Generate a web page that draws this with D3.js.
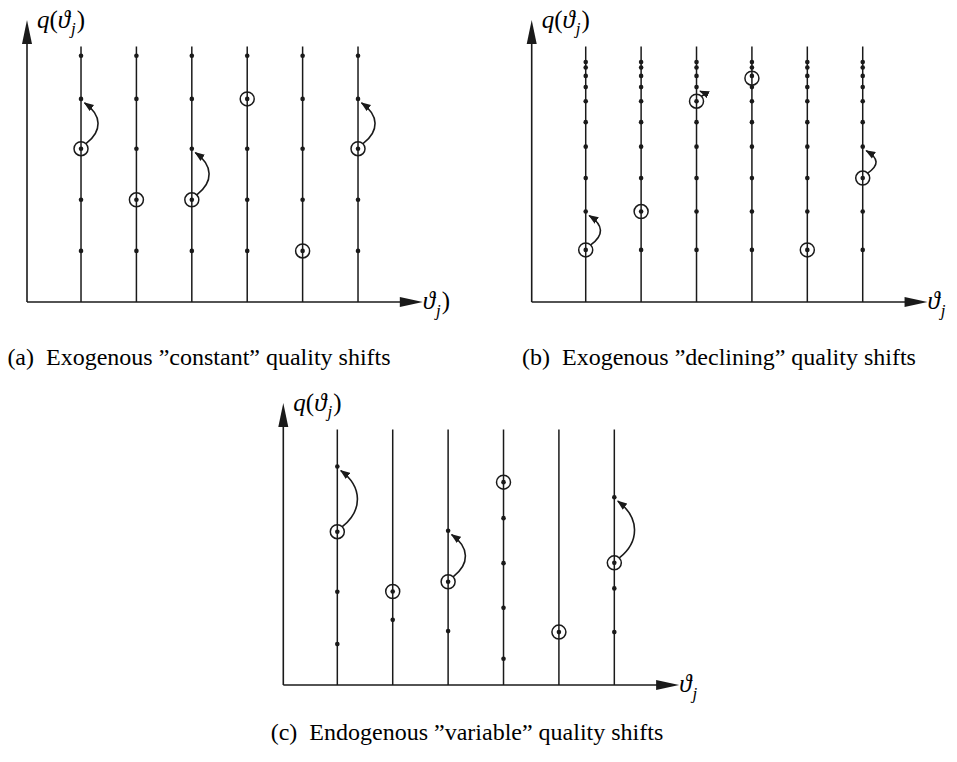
<!DOCTYPE html>
<html>
<head>
<meta charset="utf-8">
<script src="https://cdn.jsdelivr.net/npm/d3@7"></script>
<style>
  body { margin: 0; background: #fff; }
  text { font-family: "Liberation Serif", "DejaVu Serif", serif; fill: #000; }
</style>
</head>
<body>
<svg id="fig" width="957" height="762"></svg>
<script>
// six products on the horizontal axis, quality levels in units of the vertical line height (0..100)
var products = [1, 2, 3, 4, 5, 6];

// (a) constant shifts: same ladder on every line
var levelsA  = [20, 40, 60, 79.5, 96.4];
var circlesA = [60, 40, 40, 79.5, 20, 60];
var shiftsA  = [[1, 60, 79.5], [3, 40, 60], [6, 60, 79.5]];

// (b) declining shifts: ladder gets denser towards the top
var levelsB  = [20.4, 35.4, 48.5, 60.8, 70.4, 78.6, 84.1, 88.5, 91.8, 93.9];
var circlesB = [20.4, 35.4, 78.6, 87.6, 20.4, 48.5];
var shiftsB  = [[1, 20.4, 35.4], [3, 78.6, 84.1], [6, 48.5, 60.8]];

// (c) variable shifts: every line has its own ladder
var levelsC  = [[85.5, 60, 36.5, 16], [36.6, 25.5], [60.4, 40.4, 21.1],
                [79.4, 65.3, 47.7, 30.2, 10.3], [20.7], [73.5, 47.8, 37.8, 20.7]];
var circlesC = [60, 36.6, 40.4, 79.4, 20.7, 47.8];
var shiftsC  = [[1, 60, 85.5], [3, 40.4, 60.4], [6, 47.8, 73.5]];

var captions = [
  '(a)\u2002Exogenous \u201Dconstant\u201D quality shifts',
  '(b)\u2002Exogenous \u201Ddeclining\u201D quality shifts',
  '(c)\u2002Endogenous \u201Dvariable\u201D quality shifts'
];

var ink = '#1a1a1a';
var svg = d3.select('#fig');

var defs = svg.append('defs');
defs.append('marker')
  .attr('id', 'head')
  .attr('markerUnits', 'userSpaceOnUse')
  .attr('viewBox', '0 -4 10 8')
  .attr('refX', 9).attr('refY', 0)
  .attr('markerWidth', 10).attr('markerHeight', 8)
  .attr('orient', 'auto')
  .append('path')
  .attr('d', 'M0,-3.8L10,0L0,3.8Z')
  .attr('fill', ink);

function panel() {
  var
    ox = 0, oy = 0,
    xLabel = '',
    levels = [],
    circles = [],
    shifts = [],
    xScale = d3.scaleLinear().domain([0.025, 7.17]),
    yScale = d3.scaleLinear().domain([0, 100]),
    stepX = 55.4,
    lineH = 255.5
    ;

  function draw(g) {
    xScale.range([0, (7.17 - 0.025) * stepX]);
    yScale.range([0, -lineH]);
    g = g.append('g').attr('transform', 'translate(' + ox + ',' + oy + ')');

    var yTop = yScale(110.4), xEnd = xScale(7.17);

    // axes with filled arrow tips
    g.append('line').attr('x1', 0).attr('y1', 0).attr('x2', 0).attr('y2', yTop + 20)
      .attr('stroke', ink).attr('stroke-width', 1.6);
    g.append('line').attr('x1', 0).attr('y1', 0).attr('x2', xEnd - 20).attr('y2', 0)
      .attr('stroke', ink).attr('stroke-width', 1.6);
    g.append('path').attr('d', 'M0,' + yTop + 'L-5,' + (yTop + 24) + 'L5,' + (yTop + 24) + 'Z').attr('fill', ink);
    g.append('path').attr('d', 'M' + xEnd + ',0L' + (xEnd - 23) + ',-5L' + (xEnd - 23) + ',5Z').attr('fill', ink);

    // q(theta_j) label
    var ql = g.append('text').attr('x', 10).attr('y', yTop + 8).style('font-size', '25px');
    ql.append('tspan').style('font-style', 'italic').text('q');
    ql.append('tspan').text('(');
    ql.append('tspan').style('font-style', 'italic').text('\u03D1');
    ql.append('tspan').style('font-style', 'italic').style('font-size', '17px').attr('dy', 6).attr('dx', 1).text('j');
    ql.append('tspan').attr('dy', -6).attr('dx', 1).text(')');

    var xl = g.append('text').attr('x', xEnd).attr('y', 7).style('font-size', '25px');
    xl.append('tspan').style('font-style', 'italic').text('\u03D1');
    xl.append('tspan').style('font-style', 'italic').style('font-size', '17px').attr('dy', 7).attr('dx', 1).text('j');
    if (xLabel) xl.append('tspan').attr('dy', -7).attr('dx', 1).text(xLabel);

    var cols = g.selectAll('.col')
      .data(products)
      .enter().append('g')
      .attr('class', 'col')
      .attr('transform', d => 'translate(' + xScale(d) + ',0)');

    cols.append('line')
      .attr('y1', 0).attr('y2', yScale(100))
      .attr('stroke', ink).attr('stroke-width', 1.5);

    cols.selectAll('circle.dot')
      .data((d, i) => Array.isArray(levels[0]) ? levels[i] : levels)
      .enter().append('circle')
      .attr('class', 'dot')
      .attr('cy', v => yScale(v))
      .attr('r', 2.3)
      .attr('fill', ink);

    cols.append('circle')
      .attr('cy', (d, i) => yScale(circles[i]))
      .attr('r', 7)
      .attr('fill', 'none')
      .attr('stroke', ink).attr('stroke-width', 1.5);

    g.selectAll('.shift')
      .data(shifts)
      .enter().append('path')
      .attr('class', 'shift')
      .attr('fill', 'none')
      .attr('stroke', ink).attr('stroke-width', 1.6)
      .attr('marker-end', 'url(#head)')
      .attr('d', s => {
        var x = xScale(s[0]), y0 = yScale(s[1]), y1 = yScale(s[2]),
            span = y0 - y1, b = 6 + span * 0.2,
            c = b * 8 / 6;
        return 'M' + (x + 5) + ',' + (y0 - 5) +
          'C' + (x + c) + ',' + (y0 - 5 - span * 0.25) + ' ' +
          (x + c) + ',' + (y1 + 4 + span * 0.25) + ' ' +
          (x + 3.5) + ',' + (y1 + 4);
      });
  }

  draw.origin = function(x, y) { ox = x; oy = y; return draw; };
  draw.levels = function(_) { levels = _; return draw; };
  draw.circles = function(_) { circles = _; return draw; };
  draw.shifts = function(_) { shifts = _; return draw; };
  draw.xLabel = function(_) { xLabel = _; return draw; };
  return draw;
}

svg.call(panel().origin(27, 302).levels(levelsA).circles(circlesA).shifts(shiftsA).xLabel(')'));
svg.call(panel().origin(531.7, 302).levels(levelsB).circles(circlesB).shifts(shiftsB));
svg.call(panel().origin(283.3, 685).levels(levelsC).circles(circlesC).shifts(shiftsC));

svg.selectAll('.caption')
  .data(captions)
  .enter().append('text')
  .attr('class', 'caption')
  .attr('x', (d, i) => [199, 719, 467][i])
  .attr('y', (d, i) => [365, 365, 740][i])
  .attr('text-anchor', 'middle')
  .style('font-size', '24px')
  .text(d => d);
</script>
</body>
</html>
